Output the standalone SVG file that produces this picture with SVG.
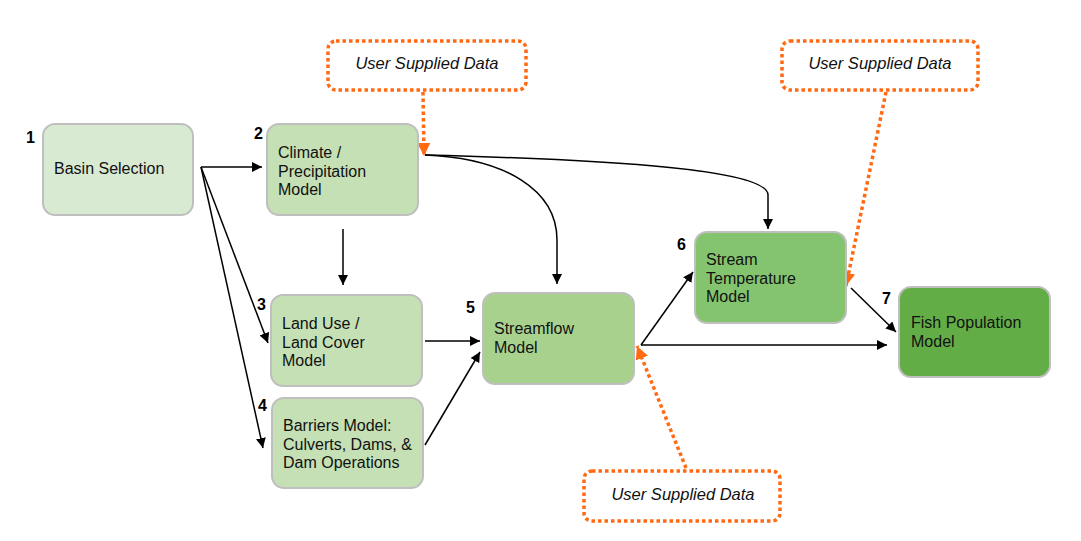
<svg xmlns="http://www.w3.org/2000/svg" width="1081" height="541" viewBox="0 0 1081 541">
<defs>
<style>
.box{stroke:#bfbfbf;stroke-width:2}
.t{font-family:"Liberation Sans",Arial,sans-serif;font-size:16px;fill:#111}
.n{font-family:"Liberation Sans",Arial,sans-serif;font-size:16px;font-weight:bold;fill:#000}
.u{font-family:"Liberation Sans",Arial,sans-serif;font-size:16.5px;font-style:italic;fill:#111}
.ub{fill:#fff;stroke:#ff6a13;stroke-width:3.5;stroke-dasharray:3.5 3}
.c{fill:none;stroke:#000;stroke-width:1.5}
.o{fill:none;stroke:#ff6a13;stroke-width:3.5;stroke-dasharray:3.5 3}
</style>
<marker id="a" viewBox="0 0 10 10" refX="10" refY="5" markerWidth="10" markerHeight="10" markerUnits="userSpaceOnUse" orient="auto"><path d="M0,0 L10,5 L0,10 z" fill="#000"/></marker>
<marker id="ao" viewBox="0 0 10 10" refX="10" refY="5" markerWidth="13" markerHeight="13" markerUnits="userSpaceOnUse" orient="auto"><path d="M0,0 L10,5 L0,10 z" fill="#ff6a13"/></marker>
</defs>
<rect width="1081" height="541" fill="#fff"/>
<g id="connectors">
<path class="c" d="M201,167 L262,167" marker-end="url(#a)"/>
<path class="c" d="M201,167 L268,343" marker-end="url(#a)"/>
<path class="c" d="M201,167 L263,448" marker-end="url(#a)"/>
<path class="c" d="M343,229 L343,285" marker-end="url(#a)"/>
<path class="c" d="M425,341 L480,341" marker-end="url(#a)"/>
<path class="c" d="M425,445 L480,352" marker-end="url(#a)"/>
<path class="c" d="M425,155 C505,158 557,190 557,240 L557,284" marker-end="url(#a)"/>
<path class="c" d="M425,155 C620,160 768,170 768,195 L768,229" marker-end="url(#a)"/>
<path class="c" d="M641,345 L693,272" marker-end="url(#a)"/>
<path class="c" d="M641,345 L887,345" marker-end="url(#a)"/>
<path class="c" d="M851,288 L896,332" marker-end="url(#a)"/>
<path class="o" d="M423,92 L424,156" marker-end="url(#ao)"/>
<path class="o" d="M886,92 L846,286" marker-end="url(#ao)"/>
<path class="o" d="M686,468 L637,346" marker-end="url(#ao)"/>
</g>
<g id="user1"><rect class="ub" x="328" y="41" width="198" height="49" rx="8"/><text class="u" x="427" y="69" text-anchor="middle">User Supplied Data</text></g>
<g id="user2"><rect class="ub" x="782" y="41" width="196" height="49" rx="8"/><text class="u" x="880" y="69" text-anchor="middle">User Supplied Data</text></g>
<g id="user3"><rect class="ub" x="584" y="471" width="196" height="50" rx="8"/><text class="u" x="683" y="500" text-anchor="middle">User Supplied Data</text></g>
<g id="node1"><rect class="box" x="43" y="124" width="150" height="91" rx="12" fill="#d9ead3"/><text class="n" x="26" y="143">1</text><text class="t" x="54" y="174">Basin Selection</text></g>
<g id="node2"><rect class="box" x="267" y="124" width="151" height="91" rx="12" fill="#c5e0b4"/><text class="n" x="254" y="139">2</text><text class="t" x="278" y="158">Climate /</text><text class="t" x="278" y="176.5">Precipitation</text><text class="t" x="278" y="195">Model</text></g>
<g id="node3"><rect class="box" x="271" y="295" width="151" height="91" rx="12" fill="#c5e0b4"/><text class="n" x="257" y="310">3</text><text class="t" x="282" y="329">Land Use /</text><text class="t" x="282" y="347.5">Land Cover</text><text class="t" x="282" y="366">Model</text></g>
<g id="node4"><rect class="box" x="272" y="398" width="151" height="90" rx="12" fill="#c5e0b4"/><text class="n" x="258" y="411">4</text><text class="t" x="283" y="431">Barriers Model:</text><text class="t" x="283" y="449.5">Culverts, Dams, &amp;</text><text class="t" x="283" y="468">Dam Operations</text></g>
<g id="node5"><rect class="box" x="483" y="293" width="151" height="91" rx="12" fill="#a9d18e"/><text class="n" x="466" y="313">5</text><text class="t" x="494" y="334">Streamflow</text><text class="t" x="494" y="352.5">Model</text></g>
<g id="node6"><rect class="box" x="695" y="232" width="151" height="91" rx="12" fill="#85c46f"/><text class="n" x="677" y="250">6</text><text class="t" x="706" y="265">Stream</text><text class="t" x="706" y="283.5">Temperature</text><text class="t" x="706" y="302">Model</text></g>
<g id="node7"><rect class="box" x="899" y="287" width="151" height="90" rx="12" fill="#63ad47"/><text class="n" x="882" y="304">7</text><text class="t" x="911" y="328">Fish Population</text><text class="t" x="911" y="346.5">Model</text></g>
</svg>
